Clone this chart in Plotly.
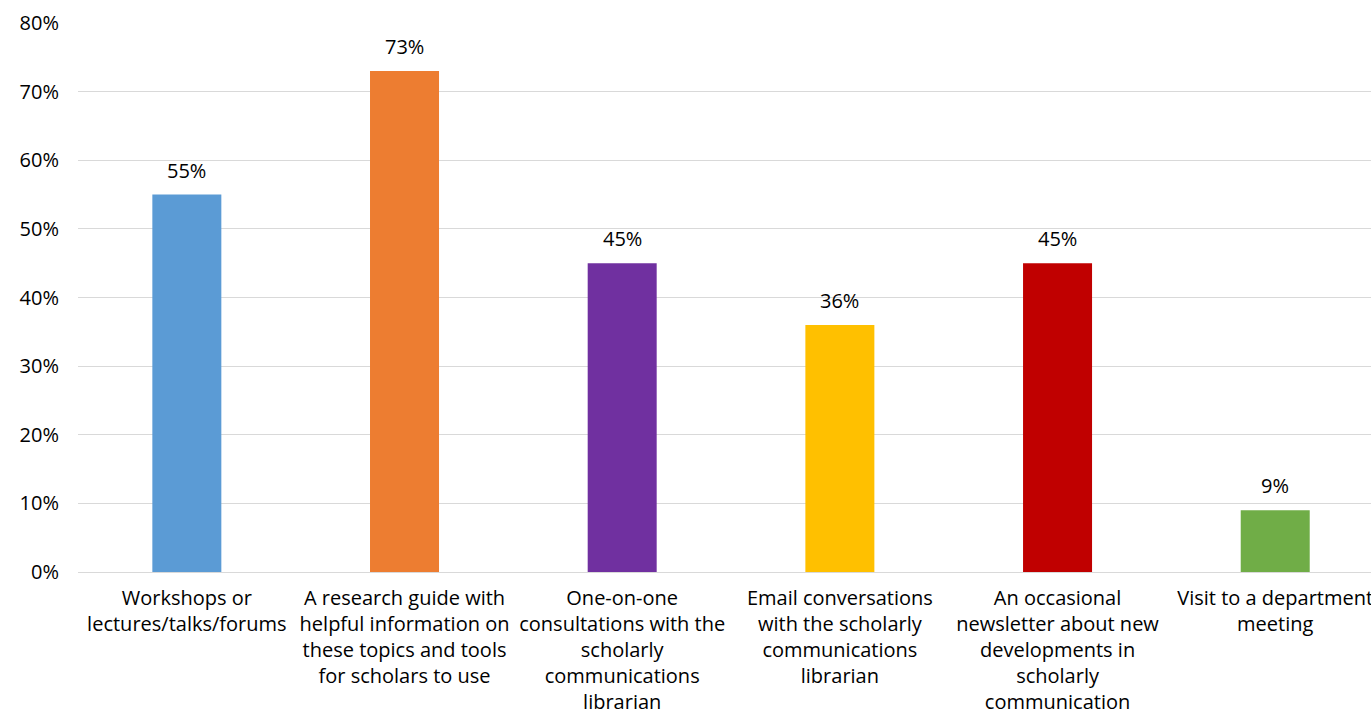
import plotly.graph_objects as go

categories = [
    "Workshops or<br>lectures/talks/forums",
    "A research guide with<br>helpful information on<br>these topics and tools<br>for scholars to use",
    "One-on-one<br>consultations with the<br>scholarly<br>communications<br>librarian",
    "Email conversations<br>with the scholarly<br>communications<br>librarian",
    "An occasional<br>newsletter about new<br>developments in<br>scholarly<br>communication",
    "Visit to a department<br>meeting",
]
values = [0.55, 0.73, 0.45, 0.36, 0.45, 0.09]
colors = ["#5B9BD5", "#ED7D31", "#7030A0", "#FFC000", "#C00000", "#70AD47"]
tick_vals = [0, 0.1, 0.2, 0.3, 0.4, 0.5, 0.6, 0.7, 0.8]
tick_text = ["0%", "10%", "20%", "30%", "40%", "50%", "60%", "70%", "80%"]

FONT = "Open Sans, sans-serif"
xs = list(range(len(categories)))

fig = go.Figure(go.Bar(
    x=xs,
    y=values,
    marker=dict(color=colors, line=dict(width=0)),
    width=0.317,
    hoverinfo="skip",
))

for x, v in zip(xs, values):
    fig.add_annotation(
        x=x, y=v, text=f"{round(v*100)}%",
        showarrow=False, yanchor="bottom", yshift=9,
        font=dict(size=20, color="#000000", family=FONT),
    )

fig.update_layout(
    width=1371, height=711,
    margin=dict(l=78, r=0, t=23, b=139),
    paper_bgcolor="white", plot_bgcolor="white",
    font=dict(family=FONT, size=20, color="#000000"),
    showlegend=False,
    xaxis=dict(
        tickmode="array",
        tickvals=xs,
        ticktext=categories,
        range=[-0.5, 5.44],
        showgrid=False, zeroline=False,
        showline=False, ticks="",
        tickangle=0,
        ticklabelstandoff=12,
        ticklabeloverflow="allow",
        automargin=False,
        tickfont=dict(size=20, family=FONT),
    ),
    yaxis=dict(
        range=[0, 0.8],
        tickvals=tick_vals, ticktext=tick_text,
        showgrid=True, gridcolor="#D9D9D9", gridwidth=1,
        zeroline=True, zerolinecolor="#D9D9D9", zerolinewidth=1,
        showline=False, ticks="",
        ticklabelstandoff=18,
        automargin=False,
        tickfont=dict(size=20, family=FONT),
    ),
)

fig.write_html(
    "out.html",
    config={"displayModeBar": False},
    post_script="document.body.style.margin='0';document.body.style.overflow='hidden';",
)
